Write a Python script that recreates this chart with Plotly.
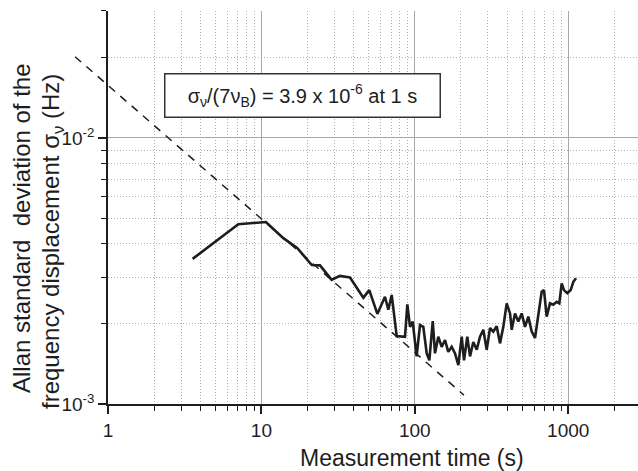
"""
Allan deviation of the frequency displacement vs measurement time
"""

import plotly.graph_objects as go

tau = [3.56, 7.07, 10.7, 13.9, 17.1, 21.3, 24.1, 28.7, 32.5, 37.8,
       46.2, 50.5, 57.0, 63.9, 67.2, 70.7, 76.2, 86.3, 89.4, 93.1,
       96.9, 102.8, 108.1, 113.6, 119.6, 124.4, 130.9, 135.4, 142.3, 149.7,
       157.4, 165.3, 174.0, 182.9, 192.2, 202.2, 209.3, 219.9, 229.1, 240.6,
       253.4, 266.1, 279.7, 294.2, 309.3, 324.9, 341.9, 359.2, 377.6, 397.2,
       417.8, 428.2, 449.9, 472.9, 497.6, 523.0, 549.7, 578.3, 607.7, 638.8,
       671.5, 695.3, 723.9, 760.7, 800.0, 841.3, 875.0, 907.0, 939.0, 986.3,
       1038, 1080, 1125]
sigma = [3.51e-3, 4.74e-3, 4.83e-3, 4.20e-3, 3.86e-3, 3.33e-3, 3.32e-3, 2.93e-3, 3.03e-3, 2.99e-3,
         2.51e-3, 2.68e-3, 2.18e-3, 2.53e-3, 2.26e-3, 2.57e-3, 1.80e-3, 1.79e-3, 2.37e-3, 1.95e-3,
         2.04e-3, 1.51e-3, 1.98e-3, 1.95e-3, 1.55e-3, 1.46e-3, 2.05e-3, 1.55e-3, 1.79e-3, 1.64e-3,
         1.74e-3, 1.57e-3, 1.64e-3, 1.55e-3, 1.40e-3, 1.79e-3, 1.46e-3, 1.79e-3, 1.51e-3, 1.71e-3,
         1.60e-3, 1.79e-3, 1.90e-3, 1.60e-3, 1.93e-3, 1.87e-3, 1.96e-3, 1.69e-3, 1.95e-3, 2.39e-3,
         2.19e-3, 1.90e-3, 2.19e-3, 2.04e-3, 2.19e-3, 1.95e-3, 2.13e-3, 1.87e-3, 1.77e-3, 2.13e-3,
         2.64e-3, 2.68e-3, 2.13e-3, 2.39e-3, 2.36e-3, 2.42e-3, 2.39e-3, 2.84e-3, 2.68e-3, 2.61e-3,
         2.68e-3, 2.88e-3, 2.97e-3]

# tau^-1/2 guide line (end points)
tau_fit = [0.61, 209]
sigma_fit = [0.0202, 0.00108]

x_ticks = [1, 10, 100, 1000]
x_labels = ["1", "10", "100", "1000"]
y_ticks = [0.001, 0.01]
y_labels = ["10<sup>-3</sup>", "10<sup>-2</sup>"]

font = "Liberation Sans, Arial, sans-serif"
ink = "#1e1e1e"

fig = go.Figure()

# dashed line lives on a hidden, wider subplot so it can run past the y axis
fig.add_trace(go.Scatter(x=tau_fit, y=sigma_fit, mode="lines", xaxis="x2", yaxis="y2",
                         line=dict(color=ink, width=1.5, dash="8px,7px"), hoverinfo="skip"))
fig.add_trace(go.Scatter(x=tau, y=sigma, mode="lines",
                         line=dict(color=ink, width=2.6)))

axis_common = dict(
    type="log", showline=True, linecolor=ink, linewidth=1.5, automargin=False,
    ticks="outside", ticklen=8, tickwidth=1.5, tickcolor=ink,
    showgrid=True, gridcolor="#a8a8a8", gridwidth=1.3, zeroline=False,
    tickfont=dict(family=font, size=19, color=ink),
    minor=dict(ticks="outside", ticklen=5, tickwidth=1.2, tickcolor=ink, dtick="D1",
               showgrid=True, gridcolor="#b0b0b0", gridwidth=1, griddash="1px,2px"),
)

fig.update_layout(
    width=638, height=471,
    margin=dict(l=60, r=0, t=11, b=67, autoexpand=False),
    paper_bgcolor="white", plot_bgcolor="rgba(0,0,0,0)",
    showlegend=False,
    xaxis=dict(axis_common, domain=[48 / 578, 1.0], range=[0, 3.455], anchor="y",
               tickvals=x_ticks, ticktext=x_labels),
    yaxis=dict(axis_common, domain=[0, 1], range=[-3, -1.5229], anchor="x",
               tickvals=y_ticks, ticktext=y_labels),
    xaxis2=dict(type="log", domain=[0, 1], range=[-0.3129, 3.455],
                visible=False, anchor="y2", automargin=False),
    yaxis2=dict(type="log", domain=[0, 1], range=[-3, -1.5229],
                visible=False, anchor="x2", automargin=False),
)

fig.add_annotation(
    text="σ<sub>ν</sub>/(7ν<sub>B</sub>) = 3.9 x 10<sup>-6</sup> at 1 s",
    xref="paper", yref="paper", x=(302 - 60) / 578, y=(404 - 95) / 393,
    xanchor="center", yanchor="middle", showarrow=False,
    width=272, height=40, bgcolor="white", bordercolor="#333333", borderwidth=1.5,
    font=dict(family=font, size=20, color=ink),
)
fig.add_annotation(
    text="Allan standard  deviation of the",
    xref="paper", yref="paper", x=(21 - 60) / 578, y=(404 - 228) / 393,
    xanchor="center", yanchor="middle", textangle=-90, showarrow=False,
    font=dict(family=font, size=24, color=ink),
)
fig.add_annotation(
    text="frequency displacement σ<sub>ν</sub> (Hz)",
    xref="paper", yref="paper", x=(52 - 60) / 578, y=(404 - 242) / 393,
    xanchor="center", yanchor="middle", textangle=-90, showarrow=False,
    font=dict(family=font, size=24, color=ink),
)
fig.add_annotation(
    text="Measurement time (s)",
    xref="paper", yref="paper", x=(412 - 60) / 578, y=(404 - 458) / 393,
    xanchor="center", yanchor="middle", showarrow=False,
    font=dict(family=font, size=23, color=ink),
)

# drop the page's default body margin so the figure sits at the window corner
fig.write_html("out.html", config={"displayModeBar": False},
               post_script="document.body.style.margin='0';")
